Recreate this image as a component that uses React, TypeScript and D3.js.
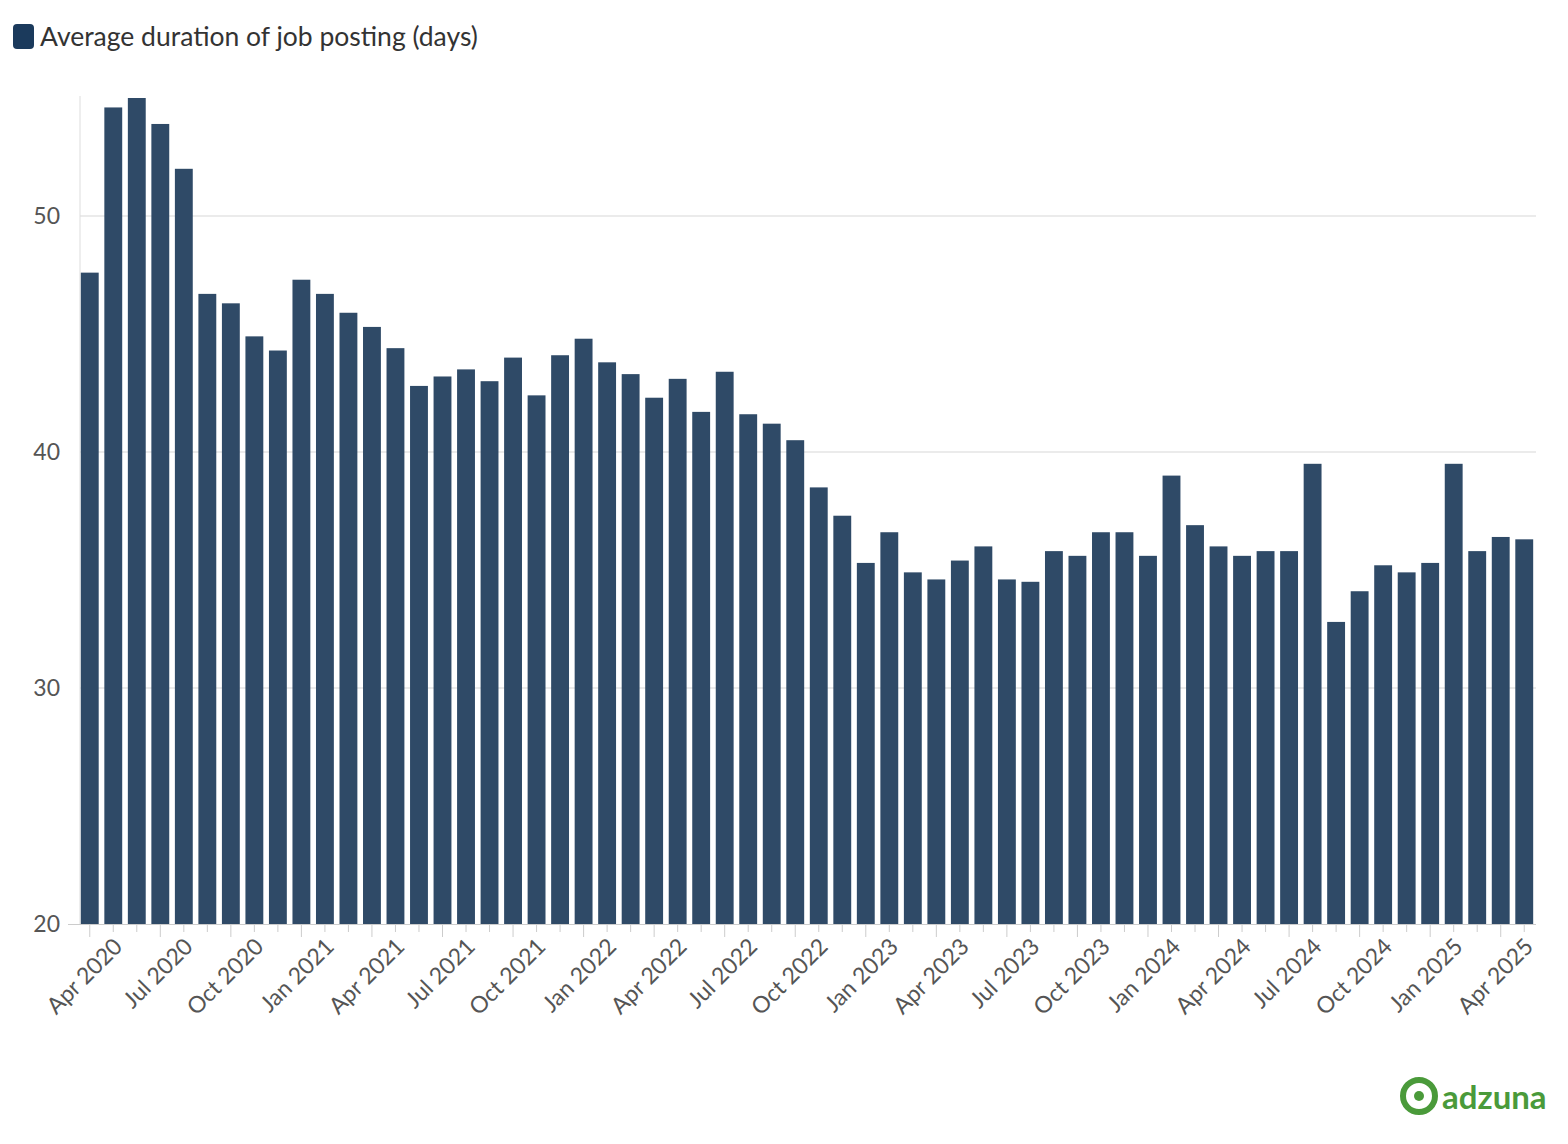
import * as d3 from "d3";

const values = [
  47.6, 54.6, 55.0, 53.9, 52.0, 46.7, 46.3, 44.9, 44.3, 47.3, 46.7, 45.9,
  45.3, 44.4, 42.8, 43.2, 43.5, 43.0, 44.0, 42.4, 44.1, 44.8, 43.8, 43.3,
  42.3, 43.1, 41.7, 43.4, 41.6, 41.2, 40.5, 38.5, 37.3, 35.3, 36.6, 34.9,
  34.6, 35.4, 36.0, 34.6, 34.5, 35.8, 35.6, 36.6, 36.6, 35.6, 39.0, 36.9,
  36.0, 35.6, 35.8, 35.8, 39.5, 32.8, 34.1, 35.2, 34.9, 35.3, 39.5, 35.8,
  36.4, 36.3,
];
const monthNames = ["Jan", "Feb", "Mar", "Apr", "May", "Jun", "Jul", "Aug", "Sep", "Oct", "Nov", "Dec"];
const months = values.map((_, i) => {
  const m = (3 + i) % 12;
  const y = 2020 + Math.floor((3 + i) / 12);
  return `${monthNames[m]} ${y}`;
});
const yTicks = [20, 30, 40, 50];
const legendLabel = "Average duration of job posting (days)";

const W = 1568, H = 1144;
const font = "Lato, 'Noto Sans', sans-serif";

export default function App() {
  const x = d3.scaleBand<string>().domain(months).range([78, 1536]).paddingInner(0.24).paddingOuter(0.12);
  const y = d3.scaleLinear().domain([20, 55]).range([924, 98]);
  return (
    <svg width={W} height={H} style={{ display: "block", margin: -8 }} fontFamily={font}>
      <rect width={W} height={H} fill="#fff" />
      <rect x={13} y={24} width={21} height={25} rx={4} fill="#1b3a5c" />
      <text x={40} y={46} fontSize={26.5} fill="#333">{legendLabel}</text>
      {yTicks.map((t) => (
        <g key={t}>
          {t > 20 && <line x1={80} x2={1536} y1={y(t)} y2={y(t)} stroke="#ebebeb" strokeWidth={2} />}
          <text x={60} y={y(t) + 8} textAnchor="end" fontSize={23} fill="#555">{t}</text>
        </g>
      ))}
      <line x1={80} x2={80} y1={96} y2={924} stroke="#ddd" />
      {values.map((v, i) => (
        <rect key={i} x={x(months[i])} y={y(v)} width={x.bandwidth()} height={y(20) - y(v)} fill="#2f4a67" />
      ))}
      <line x1={68} x2={1536} y1={924.5} y2={924.5} stroke="#ccc" />
      {months.map((m, i) => {
        const cx = (x(m) as number) + x.bandwidth() / 2;
        const major = i % 3 === 0;
        return (
          <g key={m}>
            <line x1={cx} x2={cx} y1={925} y2={major ? 937 : 932} stroke="#ccc" />
            {major && (
              <text transform={`translate(${cx + 34},${948}) rotate(-45)`} textAnchor="end" fontSize={23} fill="#555">{m}</text>
            )}
          </g>
        );
      })}
      <g transform="translate(1400,1076)">
        <circle cx={19} cy={20} r={16} fill="none" stroke="#4a9a3a" strokeWidth={6} />
        <circle cx={19} cy={20} r={5} fill="#4a9a3a" />
        <text x={42} y={33} fontSize={33} fontWeight={700} fill="#4a9a3a" fontFamily="Lato, sans-serif">adzuna</text>
      </g>
    </svg>
  );
}
